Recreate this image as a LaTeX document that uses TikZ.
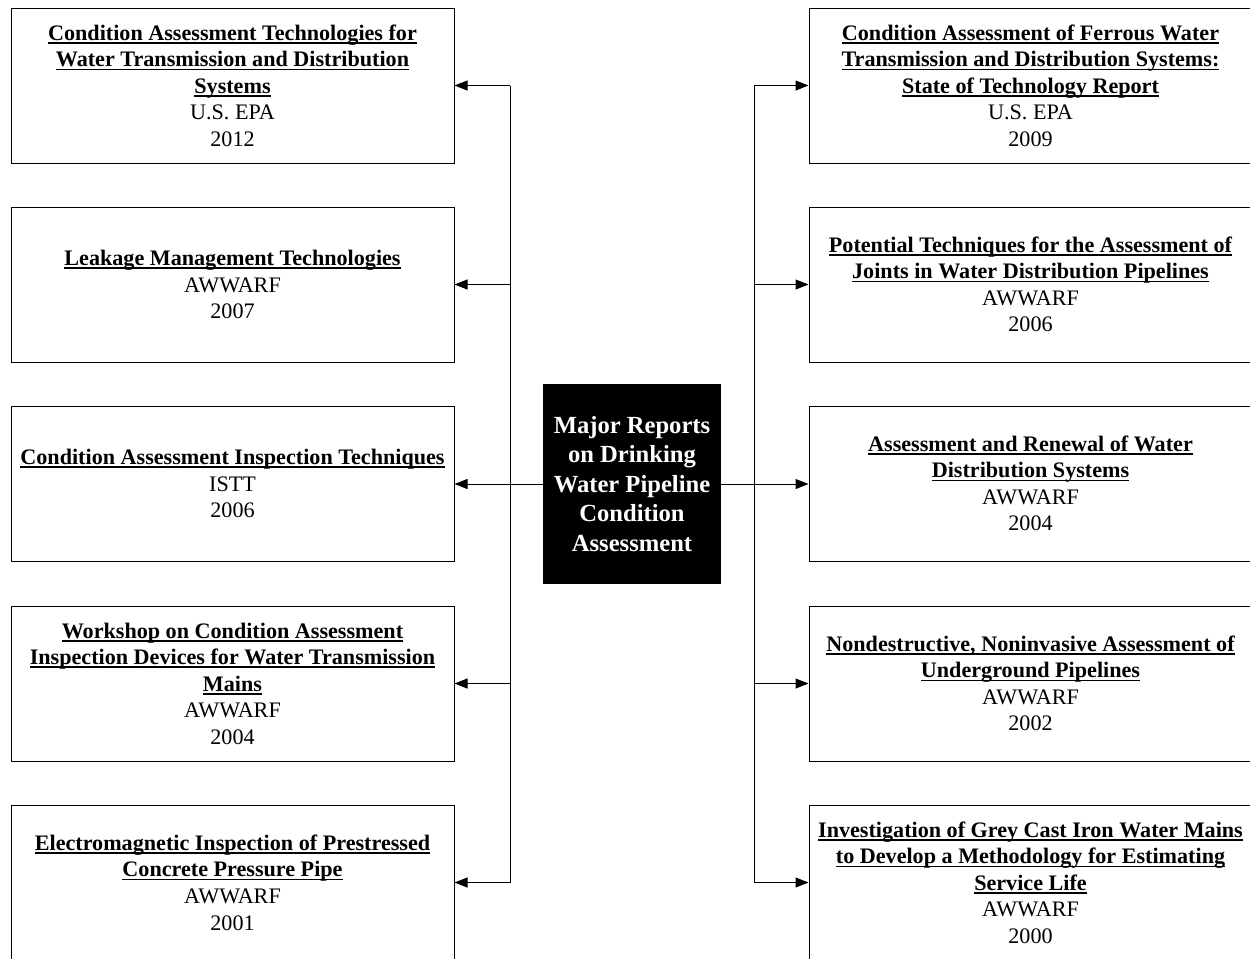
\documentclass[tikz,border=0pt]{standalone}
\usepackage{fontspec}
\setmainfont{Liberation Serif}
\usetikzlibrary{arrows.meta}
\newcommand{\ul}[1]{\setbox0\hbox{#1}\leavevmode\rlap{\rule[-2.0pt]{\wd0}{0.95pt}}\box0}
\begin{document}
\begin{tikzpicture}[x=0.02cm,y=-0.02cm,
  report/.style={draw=black,line width=0.02cm,minimum width=443*0.02cm,minimum height=155*0.02cm,
    align=center,inner sep=0pt,font=\fontsize{12.6}{15.1}\selectfont},
  hub/.style={fill=black,text=white,minimum width=178*0.02cm,minimum height=200*0.02cm,
    align=center,inner sep=0pt,font=\fontsize{14}{16.8}\selectfont\bfseries},
  conn/.style={line width=0.02cm},
  arr/.style={conn,-{Triangle[length=0.26cm,width=0.2cm]}}]
\useasboundingbox (0,0) rectangle (1250,958);
\clip (0,0) rectangle (1250,958);
% left column
\node[report] (L1) at (232.5,85.5) {\textbf{\ul{Condition Assessment Technologies for}}\\\textbf{\ul{Water Transmission and Distribution}}\\\textbf{\ul{Systems}}\\U.S. EPA\\2012};
\node[report] (L2) at (232.5,284.5) {\textbf{\ul{Leakage Management Technologies}}\\AWWARF\\2007};
\node[report] (L3) at (232.5,483.5) {\textbf{\ul{Condition Assessment Inspection Techniques}}\\ISTT\\2006};
\node[report] (L4) at (232.5,683.5) {\textbf{\ul{Workshop on Condition Assessment}}\\\textbf{\ul{Inspection Devices for Water Transmission}}\\\textbf{\ul{Mains}}\\AWWARF\\2004};
\node[report] (L5) at (232.5,882.5) {\textbf{\ul{Electromagnetic Inspection of Prestressed}}\\\textbf{\ul{Concrete Pressure Pipe}}\\AWWARF\\2001};
% right column
\node[report] (R1) at (1030.5,85.5) {\textbf{\ul{Condition Assessment of Ferrous Water}}\\\textbf{\ul{Transmission and Distribution Systems:}}\\\textbf{\ul{State of Technology Report}}\\U.S. EPA\\2009};
\node[report] (R2) at (1030.5,284.5) {\textbf{\ul{Potential Techniques for the Assessment of}}\\\textbf{\ul{Joints in Water Distribution Pipelines}}\\AWWARF\\2006};
\node[report] (R3) at (1030.5,483.5) {\textbf{\ul{Assessment and Renewal of Water}}\\\textbf{\ul{Distribution Systems}}\\AWWARF\\2004};
\node[report] (R4) at (1030.5,683.5) {\textbf{\ul{Nondestructive, Noninvasive Assessment of}}\\\textbf{\ul{Underground Pipelines}}\\AWWARF\\2002};
\node[report] (R5) at (1030.5,882.5) {\textbf{\ul{Investigation of Grey Cast Iron Water Mains}}\\\textbf{\ul{to Develop a Methodology for Estimating}}\\\textbf{\ul{Service Life}}\\AWWARF\\2000};
% hub
\node[hub] (C) at (632,484) {Major Reports\\on Drinking\\Water Pipeline\\Condition\\Assessment};
% trunks
\coordinate (LT) at (510,85.5);
\coordinate (LB) at (510,882.5);
\coordinate (RT) at (754,85.5);
\coordinate (RB) at (754,882.5);
\draw[conn] (LT) -- (LB);
\draw[conn] (RT) -- (RB);
\draw[arr] (C.west) -- (C.west -| L3.east);
\draw[arr] (C.east) -- (C.east -| R3.west);
\foreach \i in {1,2,4,5}{
  \draw[arr] (LT |- L\i.east) -- (L\i.east);
  \draw[arr] (RT |- R\i.west) -- (R\i.west);
}
\end{tikzpicture}
\end{document}
